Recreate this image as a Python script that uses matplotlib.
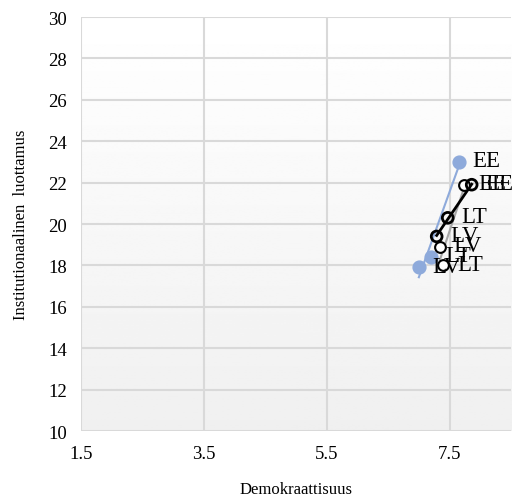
import numpy as np
import matplotlib
matplotlib.use("Agg")
import matplotlib.pyplot as plt

# Baltic countries, three survey rounds
countries = ["EE", "LT", "LV"]
demo_a = [7.65, 7.20, 7.00]
trust_a = [23.0, 18.4, 17.9]
demo_b = [7.86, 7.47, 7.29]
trust_b = [21.9, 20.3, 19.4]
demo_c = [7.74, 7.40, 7.34]
trust_c = [21.9, 18.0, 18.9]

x_ticks = [1.5, 3.5, 5.5, 7.5]
y_ticks = list(range(10, 31, 2))

plt.rcParams['font.family'] = ['Liberation Serif', 'DejaVu Serif']

fig = plt.figure(figsize=(5.28, 5.02), dpi=100)
ax = fig.add_axes([0.1534, 0.1394, 0.8144, 0.8247])

# soft vertical gradient in the plotting area
grad = np.linspace(1.0, 0.94, 256).reshape(-1, 1)
ax.imshow(grad, cmap="gray", vmin=0, vmax=1, extent=[1.5, 8.5, 10, 30],
          aspect="auto", origin="upper", zorder=0)

ax.set_xlim(1.5, 8.5)
ax.set_ylim(10, 30)
ax.set_xticks(x_ticks)
ax.set_xticklabels(["1.5", "3.5", "5.5", "7.5"])
ax.set_yticks(y_ticks)
for v in x_ticks:
    ax.axvline(v, color="#d9d9d9", lw=1.5, zorder=1)
for v in y_ticks:
    ax.axhline(v, color="#d9d9d9", lw=1.5, zorder=1)
for s in ax.spines.values():
    s.set_visible(False)
ax.tick_params(length=0, labelsize=13.5, pad=10)

def trend(xs, ys, color, lw):
    k, b = np.polyfit(xs, ys, 1)
    xx = np.array([min(xs), max(xs)])
    ax.plot(xx, k * xx + b, color=color, lw=lw, zorder=3)

trend(demo_a, trust_a, "#8eaadb", 1.5)
trend(demo_c, trust_c, "#a6a6a6", 1.5)
trend(demo_b, trust_b, "black", 2.0)

ax.scatter(demo_a, trust_a, s=85, color="#8eaadb", zorder=4)
ax.scatter(demo_c, trust_c, s=60, facecolor="white", edgecolor="black",
           linewidths=1.5, zorder=4)
ax.scatter(demo_b, trust_b, s=60, facecolor="none", edgecolor="black",
           linewidths=2.0, zorder=5)

for xs, ys in [(demo_a, trust_a), (demo_b, trust_b), (demo_c, trust_c)]:
    for lab, x, y in zip(countries, xs, ys):
        ax.annotate(lab, (x, y), xytext=(10, 1), textcoords="offset points",
                    va="center", ha="left", fontsize=16.5, zorder=6)

ax.set_xlabel("Demokraattisuus", fontsize=12, labelpad=14)
ax.set_ylabel("Institutionaalinen  luottamus", fontsize=12, labelpad=14)

fig.savefig("out.png", dpi=100)
